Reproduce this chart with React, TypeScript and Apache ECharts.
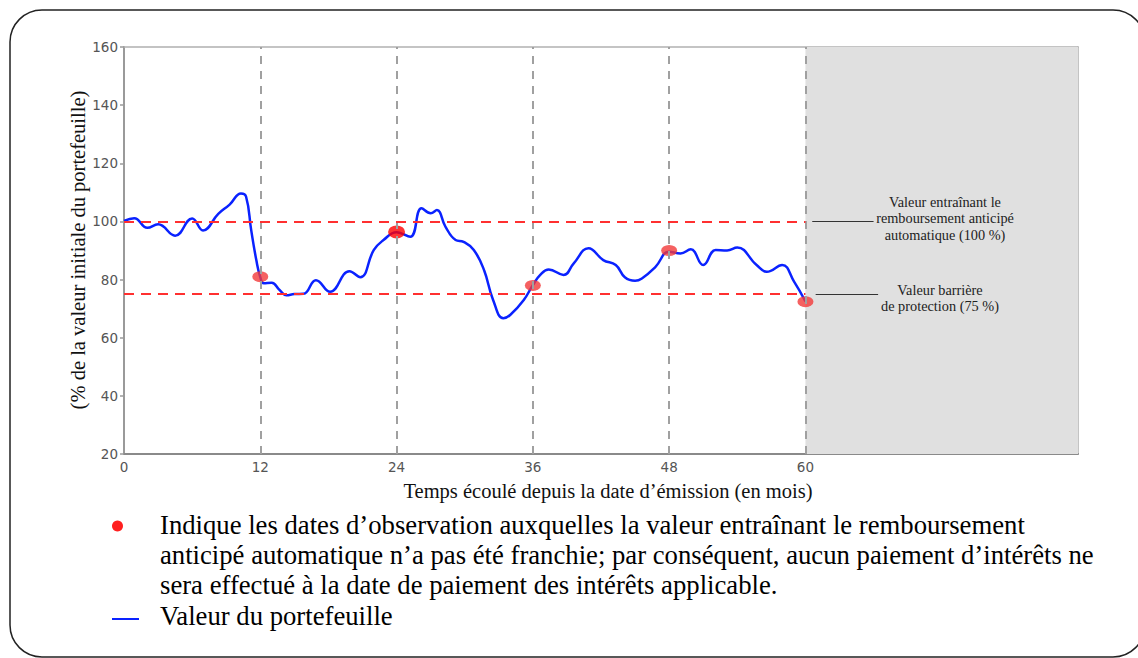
import React, { useEffect, useRef } from "react";
import * as echarts from "echarts";

// Portfolio value path (% of initial value) by elapsed month
const months = [0, 0.9, 2.05, 3.0, 4.5, 6.0, 6.96, 8.3, 9.3, 10.3, 10.75, 11.2, 11.65, 12.0, 12.3, 13.0, 13.7, 14.3, 15.0, 15.8, 16.9, 18.15, 19.85, 20.8, 22.0, 22.85, 24.0, 25.2, 26.2, 27.0, 27.55, 28.3, 29.2, 29.9, 30.8, 31.7, 32.5, 33.4, 34.0, 35.2, 36.0, 36.65, 37.4, 38.7, 39.6, 40.9, 42.2, 43.3, 44.1, 45.0, 45.6, 46.8, 48.0, 49.0, 49.9, 51.0, 52.1, 53.1, 54.0, 55.7, 56.6, 57.95, 59.0, 60];
const values = [100.2, 101.1, 97.8, 99.0, 95.1, 101.0, 96.9, 102.6, 105.8, 109.6, 108.5, 97, 86.7, 80.8, 78.7, 78.9, 76.4, 74.6, 75.0, 75.1, 79.8, 75.8, 82.9, 80.8, 90.2, 93.6, 96.3, 94.7, 104.5, 102.8, 103.9, 98.2, 93.6, 93.0, 90.2, 83.3, 73, 66.7, 67.8, 73, 78.1, 81.6, 83.5, 81.6, 85.6, 90.8, 86.7, 85.0, 80.8, 79.6, 80.4, 84.4, 89.6, 89.0, 90.4, 85.0, 90.2, 90.0, 91.0, 85.0, 82.7, 85.0, 79.3, 72.5];

// Observation dates (months) and portfolio values at those dates
const obsMonths = [12, 24, 36, 48, 60];
const obsValues = [81, 96.4, 78, 90, 72.4];

const xTickLabels = [0, 12, 24, 36, 48, 60];
const autocallLevel = 100;
const barrierLevel = 75;
const horizonMonth = 84;

const yTitle = "(% de la valeur initiale du portefeuille)";
const xTitle = "Temps écoulé depuis la date d’émission (en mois)";
const annotAutocall = "Valeur entraînant le\nremboursement anticipé\nautomatique (100 %)";
const annotBarrier = "Valeur barrière\nde protection (75 %)";
const legendDots = [
  "Indique les dates d’observation auxquelles la valeur entraînant le remboursement",
  "anticipé automatique n’a pas été franchie; par conséquent, aucun paiement d’intérêts ne",
  "sera effectué à la date de paiement des intérêts applicable.",
];
const legendLine = "Valeur du portefeuille";

const SERIF = "Liberation Serif";
const SANS = "DejaVu Sans";

export default function App() {
  const ref = useRef<HTMLDivElement>(null);
  useEffect(() => {
    document.body.style.margin = "0";
    if (!ref.current) return;
    const chart = echarts.init(ref.current, undefined, { renderer: "svg" });
    const lineData = months.map((m, i) => [m, values[i]]);
    const dotData = obsMonths.map((m, i) => ({
      value: [m, obsValues[i]],
      symbolSize: m === 24 ? [17, 13] : [16, 11],
      itemStyle: { color: m === 24 ? "#ff0000" : "#f23a3a" },
    }));
    const axisGray = "#9a9a9a";
    const serifText = (x: number, y: number, text: string, size: number, extra: any = {}) => ({
      type: "text",
      x,
      y,
      z: 100,
      silent: true,
      ...extra,
      style: {
        text,
        fontFamily: SERIF,
        fontSize: size,
        fill: "#111",
        align: "center",
        verticalAlign: "middle",
        ...(extra.style || {}),
      },
    });
    chart.setOption({
      animation: false,
      backgroundColor: "#ffffff",
      grid: { left: 124, right: 60, top: 47, bottom: 204, show: false },
      xAxis: [
        {
          type: "value",
          min: 0,
          max: horizonMonth,
          interval: 12,
          axisLine: { show: true, lineStyle: { color: "#8a8a8a", width: 2 } },
          axisTick: { show: false },
          splitLine: { show: false },
          axisLabel: {
            color: "#555",
            fontFamily: SANS,
            fontSize: 13.5,
            margin: 6,
            formatter: (v: number) => (xTickLabels.includes(v) ? String(v) : ""),
          },
        },
        {
          type: "value",
          position: "top",
          min: 0,
          max: horizonMonth,
          interval: 12,
          axisLine: { show: true, onZero: false, lineStyle: { color: "#b0b0b0", width: 1.5 } },
          axisTick: { show: false },
          axisLabel: { show: false },
          splitLine: { show: false },
        },
      ],
      yAxis: [
        {
          type: "value",
          min: 20,
          max: 160,
          interval: 20,
          axisLine: { show: true, lineStyle: { color: axisGray, width: 2 } },
          axisTick: { show: true, length: 4, lineStyle: { color: axisGray, width: 1.5 } },
          splitLine: { show: false },
          axisLabel: { color: "#555", fontFamily: SANS, fontSize: 13.5, margin: 6 },
        },
        {
          type: "value",
          position: "right",
          min: 20,
          max: 160,
          interval: 20,
          axisLine: { show: true, onZero: false, lineStyle: { color: "#b0b0b0", width: 1.5 } },
          axisTick: { show: false },
          axisLabel: { show: false },
          splitLine: { show: false },
        },
      ],
      series: [
        {
          type: "line",
          data: [],
          silent: true,
          z: 1,
          markArea: {
            silent: true,
            itemStyle: { color: "#e0e0e0" },
            data: [[{ xAxis: obsMonths[obsMonths.length - 1] }, { xAxis: horizonMonth }]],
          },
          markLine: {
            silent: true,
            symbol: "none",
            label: { show: false },
            data: [
              ...obsMonths.map((m) => ({
                xAxis: m,
                lineStyle: { color: "#a0a0a0", width: 2, type: [8, 7] },
              })),
              ...[autocallLevel, barrierLevel].map((lv) => [
                { coord: [0, lv], lineStyle: { color: "#ff3030", width: 2, type: [10, 7] } },
                { coord: [60, lv] },
              ]),
              [
                { coord: [60.6, autocallLevel], lineStyle: { color: "#333", width: 1, type: "solid" } },
                { coord: [66, autocallLevel] },
              ],
              [
                { coord: [60.9, barrierLevel], lineStyle: { color: "#333", width: 1, type: "solid" } },
                { coord: [66.4, barrierLevel] },
              ],
            ],
          },
        },
        {
          type: "line",
          name: legendLine,
          data: lineData,
          smooth: 0.45,
          showSymbol: false,
          z: 3,
          lineStyle: { color: "#0a22ff", width: 2.5 },
        },
        {
          type: "scatter",
          data: dotData,
          z: 4,
          symbol: "path://M0,5 A5,5 0 1,1 10,5 A5,5 0 1,1 0,5 Z",
        },
      ],
      graphic: [
        {
          type: "rect",
          z: 100,
          shape: { x: 10, y: 10, width: 1135, height: 647, r: 32 },
          style: { fill: "none", stroke: "#222", lineWidth: 1.5 },
          silent: true,
        },
        serifText(945, 218, annotAutocall, 14.3, { style: { lineHeight: 16.5, fill: "#222" } }),
        serifText(940, 298, annotBarrier, 14.3, { style: { lineHeight: 16.5, fill: "#222" } }),
        serifText(78, 250, yTitle, 20.5, { rotation: Math.PI / 2 }),
        serifText(608, 491, xTitle, 20.5),
        {
          type: "circle",
          z: 100,
          shape: { cx: 117.5, cy: 526, r: 5.5 },
          style: { fill: "#ff2020" },
        },
        ...legendDots.map((t, i) =>
          serifText(160, 525 + i * 29.8, t, 26.7, { style: { align: "left", fill: "#000" } })
        ),
        {
          type: "line",
          z: 100,
          shape: { x1: 112, y1: 619, x2: 139, y2: 619 },
          style: { stroke: "#0a22ff", lineWidth: 2 },
        },
        serifText(160, 616, legendLine, 26.7, { style: { align: "left", fill: "#000" } }),
      ],
    });
    return () => chart.dispose();
  }, []);
  return <div ref={ref} style={{ width: 1138, height: 658 }} />;
}
